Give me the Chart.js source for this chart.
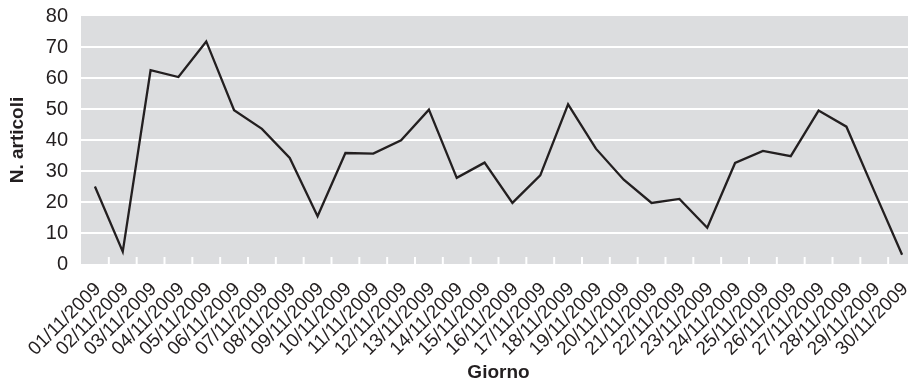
<!DOCTYPE html>
<html>
<head>
<meta charset="utf-8">
<script src="https://cdn.jsdelivr.net/npm/chart.js@4"></script>
<style>
  html, body { margin: 0; padding: 0; background: #fff; overflow: hidden; }
  canvas { display: block; }
</style>
</head>
<body>
<canvas id="myChart" width="916" height="385"></canvas>
<script>
// one label per day of November 2009
const days = ['01/11/2009', '02/11/2009', '03/11/2009', '04/11/2009', '05/11/2009',
    '06/11/2009', '07/11/2009', '08/11/2009', '09/11/2009', '10/11/2009',
    '11/11/2009', '12/11/2009', '13/11/2009', '14/11/2009', '15/11/2009',
    '16/11/2009', '17/11/2009', '18/11/2009', '19/11/2009', '20/11/2009',
    '21/11/2009', '22/11/2009', '23/11/2009', '24/11/2009', '25/11/2009',
    '26/11/2009', '27/11/2009', '28/11/2009', '29/11/2009', '30/11/2009'];
const articoli = [25, 4, 62.5, 60.3, 71.8, 49.6, 43.6, 34.2, 15.4, 35.8,
    35.6, 39.9, 49.8, 27.8, 32.7, 19.7, 28.6, 51.5, 37.2, 27.2,
    19.7, 21, 11.7, 32.6, 36.5, 34.8, 49.5, 44.3, 23.5, 3];

const tickFont = { family: "'Liberation Sans', Arial, sans-serif", size: 20 };
const titleFont = { family: "'Liberation Sans', Arial, sans-serif", size: 19, weight: 'bold' };

// grey plot background + little white marks between the days
const plotBg = {
    id: 'plotBg',
    beforeDraw(chart) {
        const { ctx, chartArea: a } = chart;
        ctx.save();
        ctx.fillStyle = '#dcdddf';
        ctx.fillRect(a.left, a.top, a.right - a.left, a.bottom - a.top);
        ctx.restore();
    },
    beforeDatasetsDraw(chart) {
        const { ctx, chartArea: a, scales: { x } } = chart;
        ctx.save();
        ctx.strokeStyle = '#ffffff';
        ctx.lineWidth = 2;
        for (let i = 1; i < days.length; i++) {
            const px = (x.getPixelForValue(i - 1) + x.getPixelForValue(i)) / 2;
            ctx.beginPath();
            ctx.moveTo(px, a.bottom);
            ctx.lineTo(px, a.bottom - 7);
            ctx.stroke();
        }
        ctx.restore();
    }
};

function createChart() {
    const ctx = document.getElementById('myChart').getContext('2d');
    new Chart(ctx, {
        type: 'line',
        data: {
            labels: days,
            datasets: [{
                label: 'N. articoli',
                data: articoli,
                borderColor: '#231f20',
                borderWidth: 2.3,
                pointRadius: 0,
                tension: 0,
                fill: false
            }]
        },
        options: {
            responsive: false,
            animation: false,
            layout: { padding: { top: 16, left: 0, right: 0, bottom: 0 } },
            plugins: { legend: { display: false }, tooltip: { enabled: false } },
            scales: {
                x: {
                    offset: true,
                    grid: { display: false },
                    border: { display: false },
                    ticks: {
                        autoSkip: false,
                        minRotation: 45,
                        maxRotation: 45,
                        padding: 11,
                        color: '#231f20',
                        font: { ...tickFont, size: 19, lineHeight: 0.46 },
                        // transparent backdrop: keeps the label end right at the tick
                        showLabelBackdrop: true,
                        backdropColor: 'rgba(0,0,0,0)',
                        backdropPadding: 0
                    },
                    title: {
                        display: true,
                        text: 'Giorno',
                        color: '#231f20',
                        font: titleFont,
                        padding: { top: 0, bottom: 1 }
                    },
                    afterFit(scale) {
                        scale.height = 121;
                        scale.paddingLeft = 0;
                        scale.paddingRight = 0;
                    }
                },
                y: {
                    min: 0,
                    max: 80,
                    ticks: { stepSize: 10, padding: 13, color: '#231f20', font: tickFont },
                    grid: {
                        color: (c) => (c.tick.value === 0 || c.tick.value === 80) ? 'rgba(0,0,0,0)' : '#ffffff',
                        lineWidth: 2,
                        drawTicks: false
                    },
                    border: { display: false },
                    title: {
                        display: true,
                        text: 'N. articoli',
                        color: '#231f20',
                        font: titleFont,
                        padding: { top: 6, bottom: 0 }
                    },
                    afterFit(scale) {
                        scale.width = 81;
                        scale.paddingTop = 0;
                        scale.paddingBottom = 0;
                    }
                }
            }
        },
        plugins: [plotBg]
    });
}
createChart();
</script>
</body>
</html>
